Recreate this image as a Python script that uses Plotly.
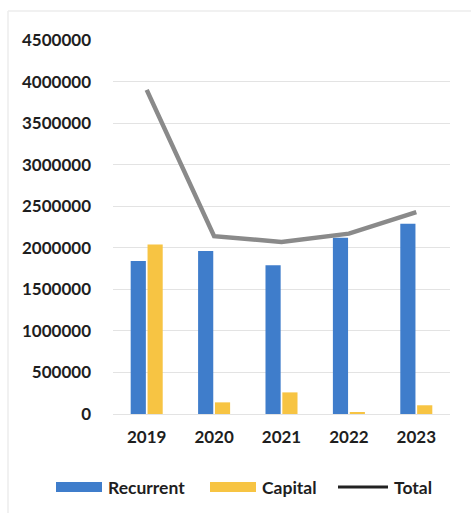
import plotly.graph_objects as go

# Annual expenditure by type
years = ["2019", "2020", "2021", "2022", "2023"]
recurrent = [1840000, 1960000, 1790000, 2120000, 2290000]
capital = [2040000, 140000, 260000, 15000, 105000]
total = [3900000, 2140000, 2070000, 2170000, 2430000]
y_ticks = [0, 500000, 1000000, 1500000, 2000000, 2500000, 3000000, 3500000, 4000000, 4500000]

BLUE = "#3f7dcb"
GOLD = "#f7c443"
GREY = "#8a8a8a"
TEXT = "#1e1e1e"
FONT = "Lato"

W, H = 471, 513
L, R, T, B = 113, 21, 40, 99
PW, PH = W - L - R, H - T - B


def px(x):
    return (x - L) / PW


def py(y):
    return (H - B - y) / PH


fig = go.Figure()
fig.add_trace(go.Bar(x=years, y=recurrent, name="Recurrent", marker_color=BLUE,
                     marker_line_width=0, showlegend=False))
fig.add_trace(go.Bar(x=years, y=capital, name="Capital", marker_color=GOLD,
                     marker_line_width=0, showlegend=False))
fig.add_trace(go.Scatter(x=years, y=total, name="Total", mode="lines",
                         line=dict(color=GREY, width=4.5), showlegend=False))

shapes = []
annotations = []
# hand-placed legend row under the axis
legend_items = [
    ("Recurrent", "bar", BLUE, 56, 102),
    ("Capital", "bar", GOLD, 210, 256),
    ("Total", "line", "#222222", 338, 388),
]
ly = 487
for label, kind, color, x0, x1 in legend_items:
    if kind == "bar":
        shapes.append(dict(type="rect", xref="paper", yref="paper",
                           x0=px(x0), x1=px(x1), y0=py(ly - 5), y1=py(ly + 5),
                           fillcolor=color, line_width=0, layer="above"))
    else:
        shapes.append(dict(type="line", xref="paper", yref="paper",
                           x0=px(x0), x1=px(x1), y0=py(ly), y1=py(ly),
                           line=dict(color=color, width=3), layer="above"))
    annotations.append(dict(text=label, xref="paper", yref="paper",
                            x=px(x1 + 4), y=py(ly), xanchor="left", yanchor="middle",
                            showarrow=False,
                            font=dict(family=FONT, size=17.5, color=TEXT, weight="bold")))

# faint outer frame
shapes.append(dict(type="line", xref="paper", yref="paper",
                   x0=px(8), x1=px(8), y0=py(11), y1=py(513),
                   line=dict(color="#ececec", width=1.5)))
shapes.append(dict(type="line", xref="paper", yref="paper",
                   x0=px(8), x1=px(471), y0=py(11), y1=py(11),
                   line=dict(color="#ececec", width=1.5)))

fig.update_layout(
    width=W, height=H,
    margin=dict(l=L, r=R, t=T, b=B),
    paper_bgcolor="white", plot_bgcolor="white",
    barmode="group", bargap=0.5, bargroupgap=0.1,
    shapes=shapes, annotations=annotations,
    font=dict(family=FONT, color=TEXT),
)
fig.update_xaxes(
    showgrid=False, showline=False, zeroline=False, ticks="",
    tickfont=dict(family=FONT, size=17, color=TEXT, weight="bold"),
    ticklabelstandoff=11,
)
fig.update_yaxes(
    range=[0, 4500000], tickvals=y_ticks, ticktext=[str(v) for v in y_ticks],
    showgrid=True, gridcolor="#e3e3e3", gridwidth=1,
    zeroline=True, zerolinecolor="#e3e3e3", zerolinewidth=1,
    showline=False, ticks="",
    tickfont=dict(family=FONT, size=17, color=TEXT, weight="bold"),
    ticklabelstandoff=21,
)

fig.write_html("out.html")
